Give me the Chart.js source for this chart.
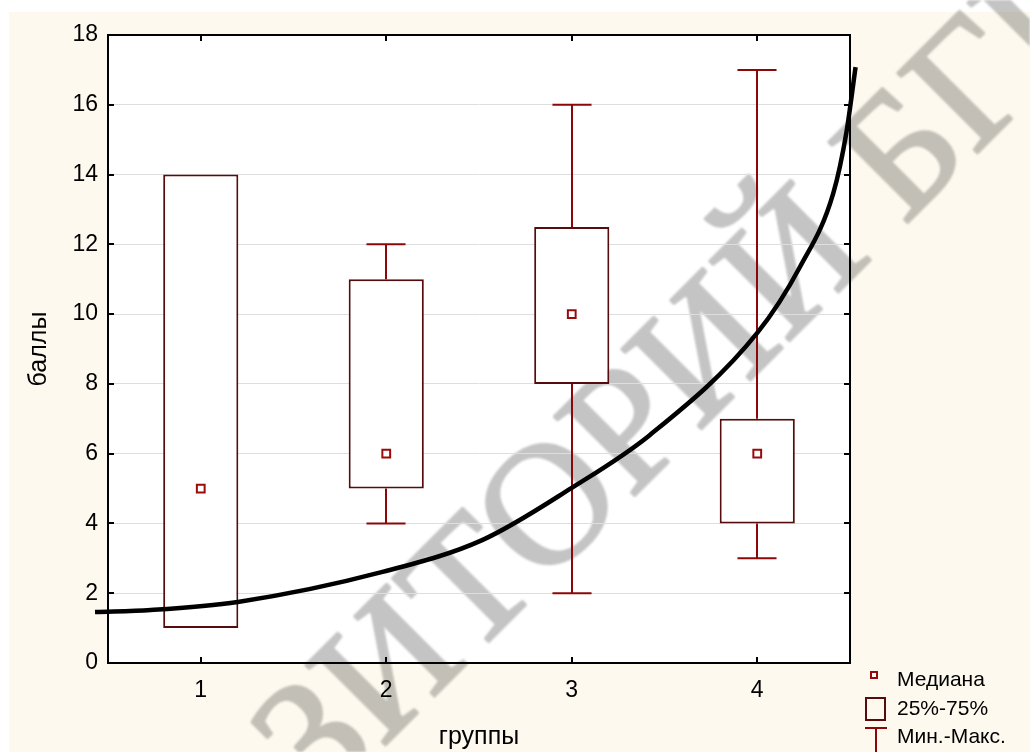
<!DOCTYPE html>
<html>
<head>
<meta charset="utf-8">
<script src="https://cdn.jsdelivr.net/npm/chart.js@4/dist/chart.umd.min.js"></script>
<style>
  html, body { margin: 0; padding: 0; background: #fff; }
  #wrap { width: 1030px; height: 752px; position: relative; }
</style>
</head>
<body>
<div id="wrap"><canvas id="boxChart" width="1030" height="752"></canvas></div>
<script>
// groups on the x axis
const groups = ['1', '2', '3', '4'];
// box plot statistics (баллы)
const mins    = [1, 4, 2, 3];
const q1      = [1, 5, 8, 4];
const medians = [5, 6, 10, 6];
const q3      = [14, 11, 12.5, 7];
const maxs    = [14, 12, 16, 17];
// hand-drawn trend curve
const curveX = [0.43, 0.73, 1.2, 1.98, 2.52, 3.0, 3.42, 4.0, 4.23, 4.41, 4.48, 4.53];
const curveY = [1.46, 1.52, 1.75, 2.61, 3.53, 5.02, 6.53, 9.46, 11.35, 13.47, 15.19, 17.08];
const yTicks = [0, 2, 4, 6, 8, 10, 12, 14, 16, 18];
const legendLabels = ['Медиана', '25%-75%', 'Мин.-Макс.'];
const watermark = 'РЕПОЗИТОРИЙ БГПУ';

const boxColor = '#560c0c';
const whiskerColor = '#8c0808';
const medianColor = '#9a0a0a';
const sans = '"Liberation Sans", Arial, sans-serif';

const backdrop = {
  id: 'backdrop',
  beforeDraw(chart) {
    const { ctx, chartArea: a } = chart;
    ctx.save();
    ctx.fillStyle = '#fff';
    ctx.fillRect(0, 0, chart.width, chart.height);
    ctx.fillStyle = '#fdf9ef';
    ctx.fillRect(9, 12, chart.width - 9, chart.height - 12);
    ctx.fillStyle = '#fff';
    ctx.fillRect(a.left, a.top, a.right - a.left, a.bottom - a.top);

    // watermark, drawn on its own layer and multiplied in
    const off = document.createElement('canvas');
    off.width = chart.width; off.height = chart.height;
    const o = off.getContext('2d');
    const size = 172;
    o.font = size + 'px "Liberation Serif", serif';
    const pre = o.measureText('РЕПОЗИТ').width;
    const ow = o.measureText('О').width;
    o.translate(548, 502);
    o.rotate(-Math.PI / 4);
    o.fillStyle = '#c4c4c4';
    o.strokeStyle = '#c4c4c4';
    o.lineWidth = 3;
    o.lineJoin = 'round';
    o.fillText(watermark, -pre - ow / 2, size * 0.33);
    o.strokeText(watermark, -pre - ow / 2, size * 0.33);
    ctx.globalCompositeOperation = 'multiply';
    ctx.filter = 'blur(1px)';
    ctx.drawImage(off, 0, 0);
    ctx.restore();
  }
};

const whiskers = {
  id: 'whiskers',
  beforeDatasetsDraw(chart) {
    const { ctx } = chart;
    const x = chart.scales.x, y = chart.scales.y;
    const bars = chart.getDatasetMeta(0).data;
    ctx.save();
    ctx.strokeStyle = whiskerColor;
    ctx.lineWidth = 2;
    groups.forEach((g, i) => {
      const cx = Math.round(x.getPixelForValue(i));
      const half = bars[i].width * 0.26;
      const yMin = y.getPixelForValue(mins[i]), yMax = y.getPixelForValue(maxs[i]);
      ctx.beginPath();
      if (mins[i] < q1[i]) {
        ctx.moveTo(cx, yMin); ctx.lineTo(cx, y.getPixelForValue(q1[i]));
        ctx.moveTo(cx - half, yMin); ctx.lineTo(cx + half, yMin);
      }
      if (maxs[i] > q3[i]) {
        ctx.moveTo(cx, yMax); ctx.lineTo(cx, y.getPixelForValue(q3[i]));
        ctx.moveTo(cx - half, yMax); ctx.lineTo(cx + half, yMax);
      }
      ctx.stroke();
    });
    ctx.restore();
  }
};

const frame = {
  id: 'frame',
  afterDraw(chart) {
    const { ctx, chartArea: a } = chart;
    const x = chart.scales.x, y = chart.scales.y;
    ctx.save();
    ctx.strokeStyle = '#000';
    ctx.lineWidth = 2;
    ctx.strokeRect(a.left, a.top, a.right - a.left, a.bottom - a.top);
    ctx.beginPath();
    groups.forEach((g, i) => {
      const px = Math.round(x.getPixelForValue(i));
      ctx.moveTo(px, a.bottom); ctx.lineTo(px, a.bottom - 6);
      ctx.moveTo(px, a.top); ctx.lineTo(px, a.top + 6);
    });
    yTicks.forEach(v => {
      const py = Math.round(y.getPixelForValue(v));
      ctx.moveTo(a.left, py); ctx.lineTo(a.left + 6, py);
      ctx.moveTo(a.right, py); ctx.lineTo(a.right - 6, py);
    });
    ctx.stroke();

    // legend
    ctx.fillStyle = '#fff';
    ctx.strokeStyle = medianColor;
    ctx.lineWidth = 2;
    ctx.fillRect(871, 672, 6, 6);
    ctx.strokeRect(871, 672, 6, 6);
    ctx.strokeStyle = boxColor;
    ctx.strokeRect(866, 698, 19, 22);
    ctx.strokeStyle = whiskerColor;
    ctx.beginPath();
    ctx.moveTo(865, 728); ctx.lineTo(887, 728);
    ctx.moveTo(876, 728); ctx.lineTo(876, 752);
    ctx.stroke();
    ctx.fillStyle = '#000';
    ctx.font = '21px ' + sans;
    ctx.textBaseline = 'middle';
    ctx.fillText(legendLabels[0], 897, 680);
    ctx.fillText(legendLabels[1], 897, 709);
    ctx.fillText(legendLabels[2], 897, 737);
    ctx.restore();
  }
};

new Chart(document.getElementById('boxChart'), {
  data: {
    labels: groups,
    datasets: [
      {
        type: 'bar',
        label: legendLabels[1],
        data: groups.map((g, i) => [q1[i], q3[i]]),
        backgroundColor: '#fff',
        borderColor: boxColor,
        borderWidth: 2,
        borderSkipped: false,
        grouped: false,
        categoryPercentage: 1,
        barPercentage: 0.405,
        order: 3
      },
      {
        type: 'line',
        label: legendLabels[0],
        data: medians,
        showLine: false,
        pointStyle: 'rect',
        pointRadius: 5.5,
        pointBorderWidth: 2,
        pointBackgroundColor: '#fff',
        pointBorderColor: medianColor,
        order: 2
      },
      {
        type: 'line',
        label: 'curve',
        xAxisID: 'xc',
        data: curveX.map((v, i) => ({ x: v, y: curveY[i] })),
        borderColor: '#000',
        borderWidth: 4.5,
        pointRadius: 0,
        cubicInterpolationMode: 'monotone',
        clip: false,
        order: 1
      }
    ]
  },
  options: {
    responsive: false,
    animation: false,
    layout: { padding: { top: 35, right: 180, left: 0, bottom: 0 } },
    plugins: { legend: { display: false }, tooltip: { enabled: false } },
    scales: {
      x: {
        type: 'category',
        offset: true,
        grid: { display: false, drawTicks: false },
        border: { display: true, color: '#000', width: 2 },
        ticks: { color: '#000', font: { family: sans, size: 23 }, padding: 14 },
        title: { display: true, text: 'группы', color: '#000', font: { family: sans, size: 25 }, padding: 0 },
        afterFit: s => { s.height = 89; }
      },
      y: {
        min: 0,
        max: 18,
        ticks: { stepSize: 2, color: '#000', font: { family: sans, size: 23 }, padding: 10 },
        grid: { color: '#dedede', drawTicks: false },
        border: { display: true, color: '#000', width: 2 },
        title: { display: true, text: 'баллы', color: '#000', font: { family: sans, size: 25 }, padding: { top: 24, bottom: 0 } },
        afterFit: s => { s.width = 108; }
      },
      xc: { type: 'linear', min: 0.5, max: 4.5, display: false }
    }
  },
  plugins: [backdrop, whiskers, frame]
});
</script>
</body>
</html>
